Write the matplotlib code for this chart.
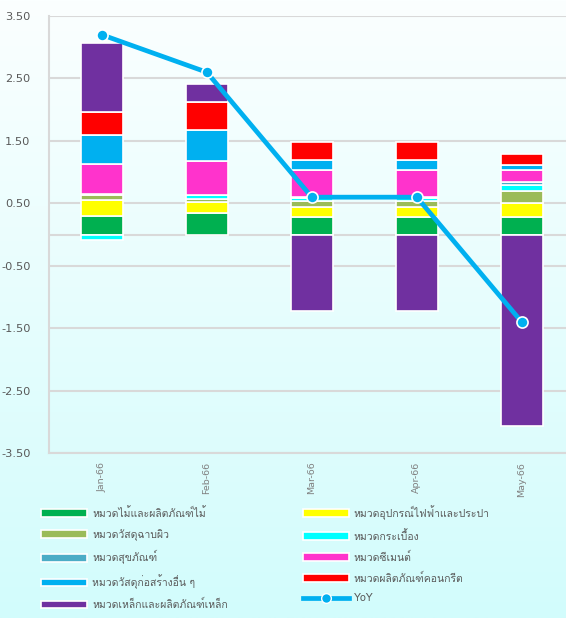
import matplotlib
matplotlib.use('Agg')
import matplotlib.pyplot as plt
from matplotlib import font_manager
from matplotlib.ft2font import FT2Font
from matplotlib.patches import Patch
from matplotlib.lines import Line2D
import numpy as np

# ข้อมูลจากกราฟ
months = ['Jan-66', 'Feb-66', 'Mar-66', 'Apr-66', 'May-66']
wood = [0.30, 0.34, 0.29, 0.29, 0.29]
electric = [0.26, 0.18, 0.16, 0.16, 0.21]
surface = [0.08, 0.05, 0.09, 0.09, 0.20]
tiles = [-0.09, 0.06, 0.05, 0.05, 0.10]
sanitary = [0.01, 0.01, 0.02, 0.02, 0.04]
cement = [0.48, 0.54, 0.42, 0.42, 0.20]
other = [0.46, 0.50, 0.16, 0.16, 0.07]
concrete = [0.37, 0.44, 0.29, 0.29, 0.18]
steel = [1.10, 0.29, -1.22, -1.22, -3.07]
yoy = [3.20, 2.60, 0.60, 0.60, -1.40]

names = ['หมวดไม้และผลิตภัณฑ์ไม้', 'หมวดอุปกรณ์ไฟฟ้าและประปา', 'หมวดวัสดุฉาบผิว',
         'หมวดกระเบื้อง', 'หมวดสุขภัณฑ์', 'หมวดซีเมนต์', 'หมวดวัสดุก่อสร้างอื่น ๆ',
         'หมวดผลิตภัณฑ์คอนกรีต', 'หมวดเหล็กและผลิตภัณฑ์เหล็ก']
colors = ['#00b050', '#ffff00', '#9bbb59', '#00ffff', '#4bacc6', '#ff33cc',
          '#00b0f0', '#ff0000', '#7030a0']
series = [wood, electric, surface, tiles, sanitary, cement, other, concrete, steel]


def find_thai_font():
    for f in font_manager.fontManager.ttflist:
        try:
            cmap = FT2Font(f.fname).get_charmap()
        except Exception:
            continue
        if 0x0E2B in cmap and 0x0E21 in cmap:
            return f.name
    return None


thai = find_thai_font()
fams = ([thai] if thai else []) + ['DejaVu Sans']
plt.rcParams['font.family'] = fams

fig = plt.figure(figsize=(5.66, 6.18), dpi=100)

# พื้นหลังไล่สี
bg = fig.add_axes([0, 0, 1, 1], zorder=-10)
top = np.array([0xfb, 0xff, 0xff]) / 255
bot = np.array([0xd2, 0xfc, 0xfc]) / 255
t = np.linspace(0, 1, 256)[:, None]
grad = (top[None, :] * (1 - t) + bot[None, :] * t)[:, None, :]
bg.imshow(grad, aspect='auto', extent=[0, 1, 0, 1])
bg.set_axis_off()

ax = fig.add_axes([49.3 / 566, 1 - 453.3 / 618, 525 / 566, (453.3 - 16) / 618])
ax.set_facecolor('none')

x = np.arange(len(months))
pos_bottom = np.zeros(len(months))
neg_bottom = np.zeros(len(months))
for vals, c in zip(series, colors):
    vals = np.array(vals)
    bottoms = np.where(vals >= 0, pos_bottom, neg_bottom)
    ax.bar(x, vals, 0.4, bottom=bottoms, color=c, edgecolor='white',
           linewidth=1.2, zorder=3)
    pos_bottom += np.where(vals >= 0, vals, 0)
    neg_bottom += np.where(vals < 0, vals, 0)

ax.plot(x, yoy, color='#00b0f0', lw=3.4, marker='o', ms=8,
        markeredgecolor='white', markeredgewidth=1.2, zorder=5)

ticks = np.arange(-3.5, 3.6, 1.0)
ax.set_xlim(-0.5, 4.5)
ax.set_ylim(-3.5, 3.5)
ax.set_yticks(ticks)
ax.set_yticklabels([f'{v:.2f}' for v in ticks], family='DejaVu Sans')
ax.grid(axis='y', color='#d9d9d9', lw=1.5, zorder=0)
ax.axhline(0, color='#d9d9d9', lw=1.5, zorder=1)
for s in ['top', 'right']:
    ax.spines[s].set_visible(False)
for s in ['left', 'bottom']:
    ax.spines[s].set_color('#d9d9d9')
    ax.spines[s].set_linewidth(1.5)
ax.tick_params(axis='y', length=0, pad=13.5, labelsize=8.2, labelcolor='#595959')
ax.set_xticks(x)
ax.set_xticklabels(months, rotation=90, family='DejaVu Sans')
ax.tick_params(axis='x', length=0, pad=6, labelsize=6.8, labelcolor='#808080')


# คำอธิบาย
def patch(c):
    return Patch(facecolor=c, edgecolor='white', linewidth=1.2)


left_idx = [0, 2, 4, 6, 8]
right_idx = [1, 3, 5, 7]
handles = [patch(colors[i]) for i in left_idx] + [patch(colors[i]) for i in right_idx]
labels = [names[i] for i in left_idx] + [names[i] for i in right_idx]
handles.append(Line2D([0], [0], color='#00b0f0', lw=3.4, marker='o', ms=7,
                      markeredgecolor='white', markeredgewidth=1.0))
labels.append('YoY')

fig.legend(handles, labels, ncol=2, loc='upper left',
           bbox_to_anchor=(41 / 566, 1 - 505 / 618), frameon=False,
           fontsize=7.5, labelcolor='#595959', handlelength=4.4,
           handleheight=0.75, handletextpad=0.5, labelspacing=0.95,
           columnspacing=7.2, borderpad=0, borderaxespad=0)

fig.savefig('out.png', dpi=100)
